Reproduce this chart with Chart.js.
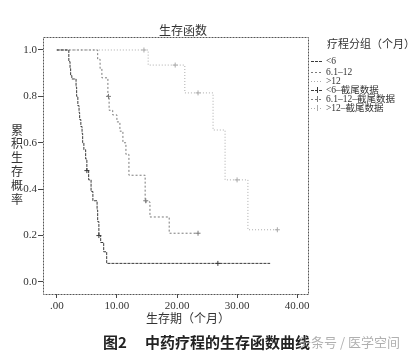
<!DOCTYPE html>
<html>
<head>
<meta charset="utf-8">
<script src="https://cdn.jsdelivr.net/npm/chart.js@4.4.1/dist/chart.umd.min.js"></script>
<style>
  html, body { margin: 0; padding: 0; background: #fff; }
  canvas { display: block; }
</style>
</head>
<body>
<canvas id="km" width="414" height="358"></canvas>
<script>
// groups and legend text
const groupLabels = ['<6', '6.1–12', '>12'];
const censorLabels = ['<6–截尾数据', '6.1–12–截尾数据', '>12–截尾数据'];

// axis ticks
const xTicks = [0, 10, 20, 30, 40];
const xTickLabels = ['.00', '10.00', '20.00', '30.00', '40.00'];
const yTicks = [0, 0.2, 0.4, 0.6, 0.8, 1.0];

// <6 months: step times and survival after each step
const timeLt6 = [0, 2.0, 2.2, 2.3, 2.5, 3.2, 3.3, 3.5, 3.7, 3.8, 4.0, 4.2, 4.3, 4.5, 4.8, 5.0, 5.3, 5.7, 6.0, 6.7, 6.8, 7.0, 7.3, 7.8, 8.3, 35.5];
const survLt6 = [1.0, 0.95, 0.92, 0.89, 0.875, 0.84, 0.80, 0.76, 0.73, 0.70, 0.67, 0.64, 0.60, 0.57, 0.53, 0.48, 0.44, 0.39, 0.35, 0.31, 0.26, 0.20, 0.17, 0.13, 0.08, 0.08];
const censTimeLt6 = [5.0, 7.0, 26.8];
const censSurvLt6 = [0.48, 0.20, 0.08];

// 6.1-12 months
const timeMid = [0, 6.8, 7.2, 7.5, 8.5, 8.7, 9.3, 10.0, 10.5, 11.0, 11.5, 12.0, 14.7, 15.5, 18.7, 23.5];
const survMid = [1.0, 0.96, 0.92, 0.88, 0.80, 0.74, 0.72, 0.69, 0.65, 0.60, 0.55, 0.46, 0.345, 0.28, 0.21, 0.21];
const censTimeMid = [8.6, 14.8, 23.5];
const censSurvMid = [0.80, 0.35, 0.21];

// >12 months
const timeGt12 = [0, 15.2, 21.3, 26.0, 28.0, 31.8, 36.7];
const survGt12 = [1.0, 0.935, 0.815, 0.655, 0.44, 0.225, 0.225];
const censTimeGt12 = [14.5, 19.7, 23.5, 30.0, 36.7];
const censSurvGt12 = [1.0, 0.935, 0.815, 0.44, 0.225];

const colors = ['#3a3a3a', '#7a7a7a', '#ababab'];
const dashes = [[3, 1], [2, 2], [1, 2]];

function pts(xs, ys) {
    return xs.map((x, i) => ({ x: x, y: ys[i] }));
}

const curves = [pts(timeLt6, survLt6), pts(timeMid, survMid), pts(timeGt12, survGt12)];
const censors = [pts(censTimeLt6, censSurvLt6), pts(censTimeMid, censSurvMid), pts(censTimeGt12, censSurvGt12)];

const datasets = [];
curves.forEach((d, i) => {
    datasets.push({
        label: groupLabels[i],
        data: d,
        stepped: true,
        borderColor: colors[i],
        borderWidth: 1,
        borderDash: dashes[i],
        pointRadius: 0,
        fill: false
    });
});
censors.forEach((d, i) => {
    datasets.push({
        label: censorLabels[i],
        data: d,
        showLine: false,
        pointStyle: 'cross',
        pointRadius: 2.5,
        borderColor: colors[i],
        borderWidth: 1
    });
});

// box, titles, legend and caption
const decor = {
    id: 'decor',
    beforeDraw(chart) {
        const ctx = chart.ctx;
        ctx.save();
        ctx.fillStyle = '#fff';
        ctx.fillRect(0, 0, chart.width, chart.height);
        ctx.restore();
    },
    afterDraw(chart) {
        const ctx = chart.ctx, a = chart.chartArea;
        ctx.save();
        ctx.strokeStyle = '#555';
        ctx.lineWidth = 1;
        ctx.setLineDash([2, 1]);
        ctx.strokeRect(a.left + 0.5, a.top + 0.5, a.right - a.left, a.bottom - a.top);
        ctx.setLineDash([]);

        ctx.fillStyle = '#333';
        ctx.textAlign = 'center';
        ctx.textBaseline = 'middle';
        ctx.font = '12px "Noto Sans CJK SC"';
        ctx.fillText('生存函数', 183, 30);
        ctx.fillText('生存期（个月）', 188, 318);

        const yTitle = '累积生存概率';
        for (let i = 0; i < yTitle.length; i++) {
            ctx.fillText(yTitle[i], 17, 130 + i * 13.8);
        }

        // legend
        ctx.textAlign = 'left';
        ctx.font = '11px "Noto Sans CJK SC"';
        ctx.fillText('疗程分组（个月）', 327, 44);
        ctx.font = '9.5px "Liberation Serif", "Noto Sans CJK SC"';
        const rows = [61, 72, 81, 90, 99, 108];
        const labels = groupLabels.concat(censorLabels);
        labels.forEach((lab, i) => {
            const y = rows[i];
            const c = colors[i % 3];
            ctx.strokeStyle = c;
            ctx.setLineDash(dashes[i % 3]);
            ctx.beginPath();
            ctx.moveTo(311, y + 0.5);
            ctx.lineTo(323, y + 0.5);
            ctx.stroke();
            ctx.setLineDash([]);
            if (i >= 3) {
                ctx.beginPath();
                ctx.moveTo(317.5, y - 3);
                ctx.lineTo(317.5, y + 3);
                ctx.stroke();
            }
            ctx.fillStyle = '#333';
            ctx.fillText(lab, 326, y);
        });

        // caption
        ctx.fillStyle = '#222';
        ctx.font = 'bold 15px "Noto Sans CJK SC"';
        ctx.fillText('图2', 103, 342);
        ctx.fillText('中药疗程的生存函数曲线', 145, 342);

        ctx.fillStyle = 'rgba(150,150,150,0.75)';
        ctx.font = '13px "Noto Sans CJK SC"';
        ctx.fillText('头条号 / 医学空间', 298, 342);
        ctx.restore();
    }
};

new Chart(document.getElementById('km').getContext('2d'), {
    type: 'line',
    data: { datasets: datasets },
    plugins: [decor],
    options: {
        responsive: false,
        animation: false,
        layout: { padding: { left: 0, top: 37, right: 106, bottom: 0 } },
        plugins: {
            legend: { display: false },
            title: { display: false },
            tooltip: { enabled: false }
        },
        scales: {
            x: {
                type: 'linear',
                min: -2.3,
                max: 41.8,
                afterFit(scale) { scale.height = 64; },
                afterBuildTicks(scale) { scale.ticks = xTicks.map(v => ({ value: v })); },
                border: { display: false },
                grid: { drawOnChartArea: false, tickLength: 4, color: '#444' },
                ticks: {
                    padding: 2,
                    color: '#333',
                    font: { family: '"Liberation Serif"', size: 11 },
                    maxRotation: 0,
                    callback: v => xTickLabels[xTicks.indexOf(v)]
                }
            },
            y: {
                type: 'linear',
                min: -0.052,
                max: 1.056,
                afterFit(scale) { scale.width = 43; },
                afterBuildTicks(scale) { scale.ticks = yTicks.map(v => ({ value: v })); },
                border: { display: false },
                grid: { drawOnChartArea: false, tickLength: 5, color: '#444' },
                ticks: {
                    padding: 1,
                    color: '#333',
                    font: { family: '"Liberation Serif"', size: 11 },
                    callback: v => v.toFixed(1)
                }
            }
        }
    }
});
</script>
</body>
</html>
